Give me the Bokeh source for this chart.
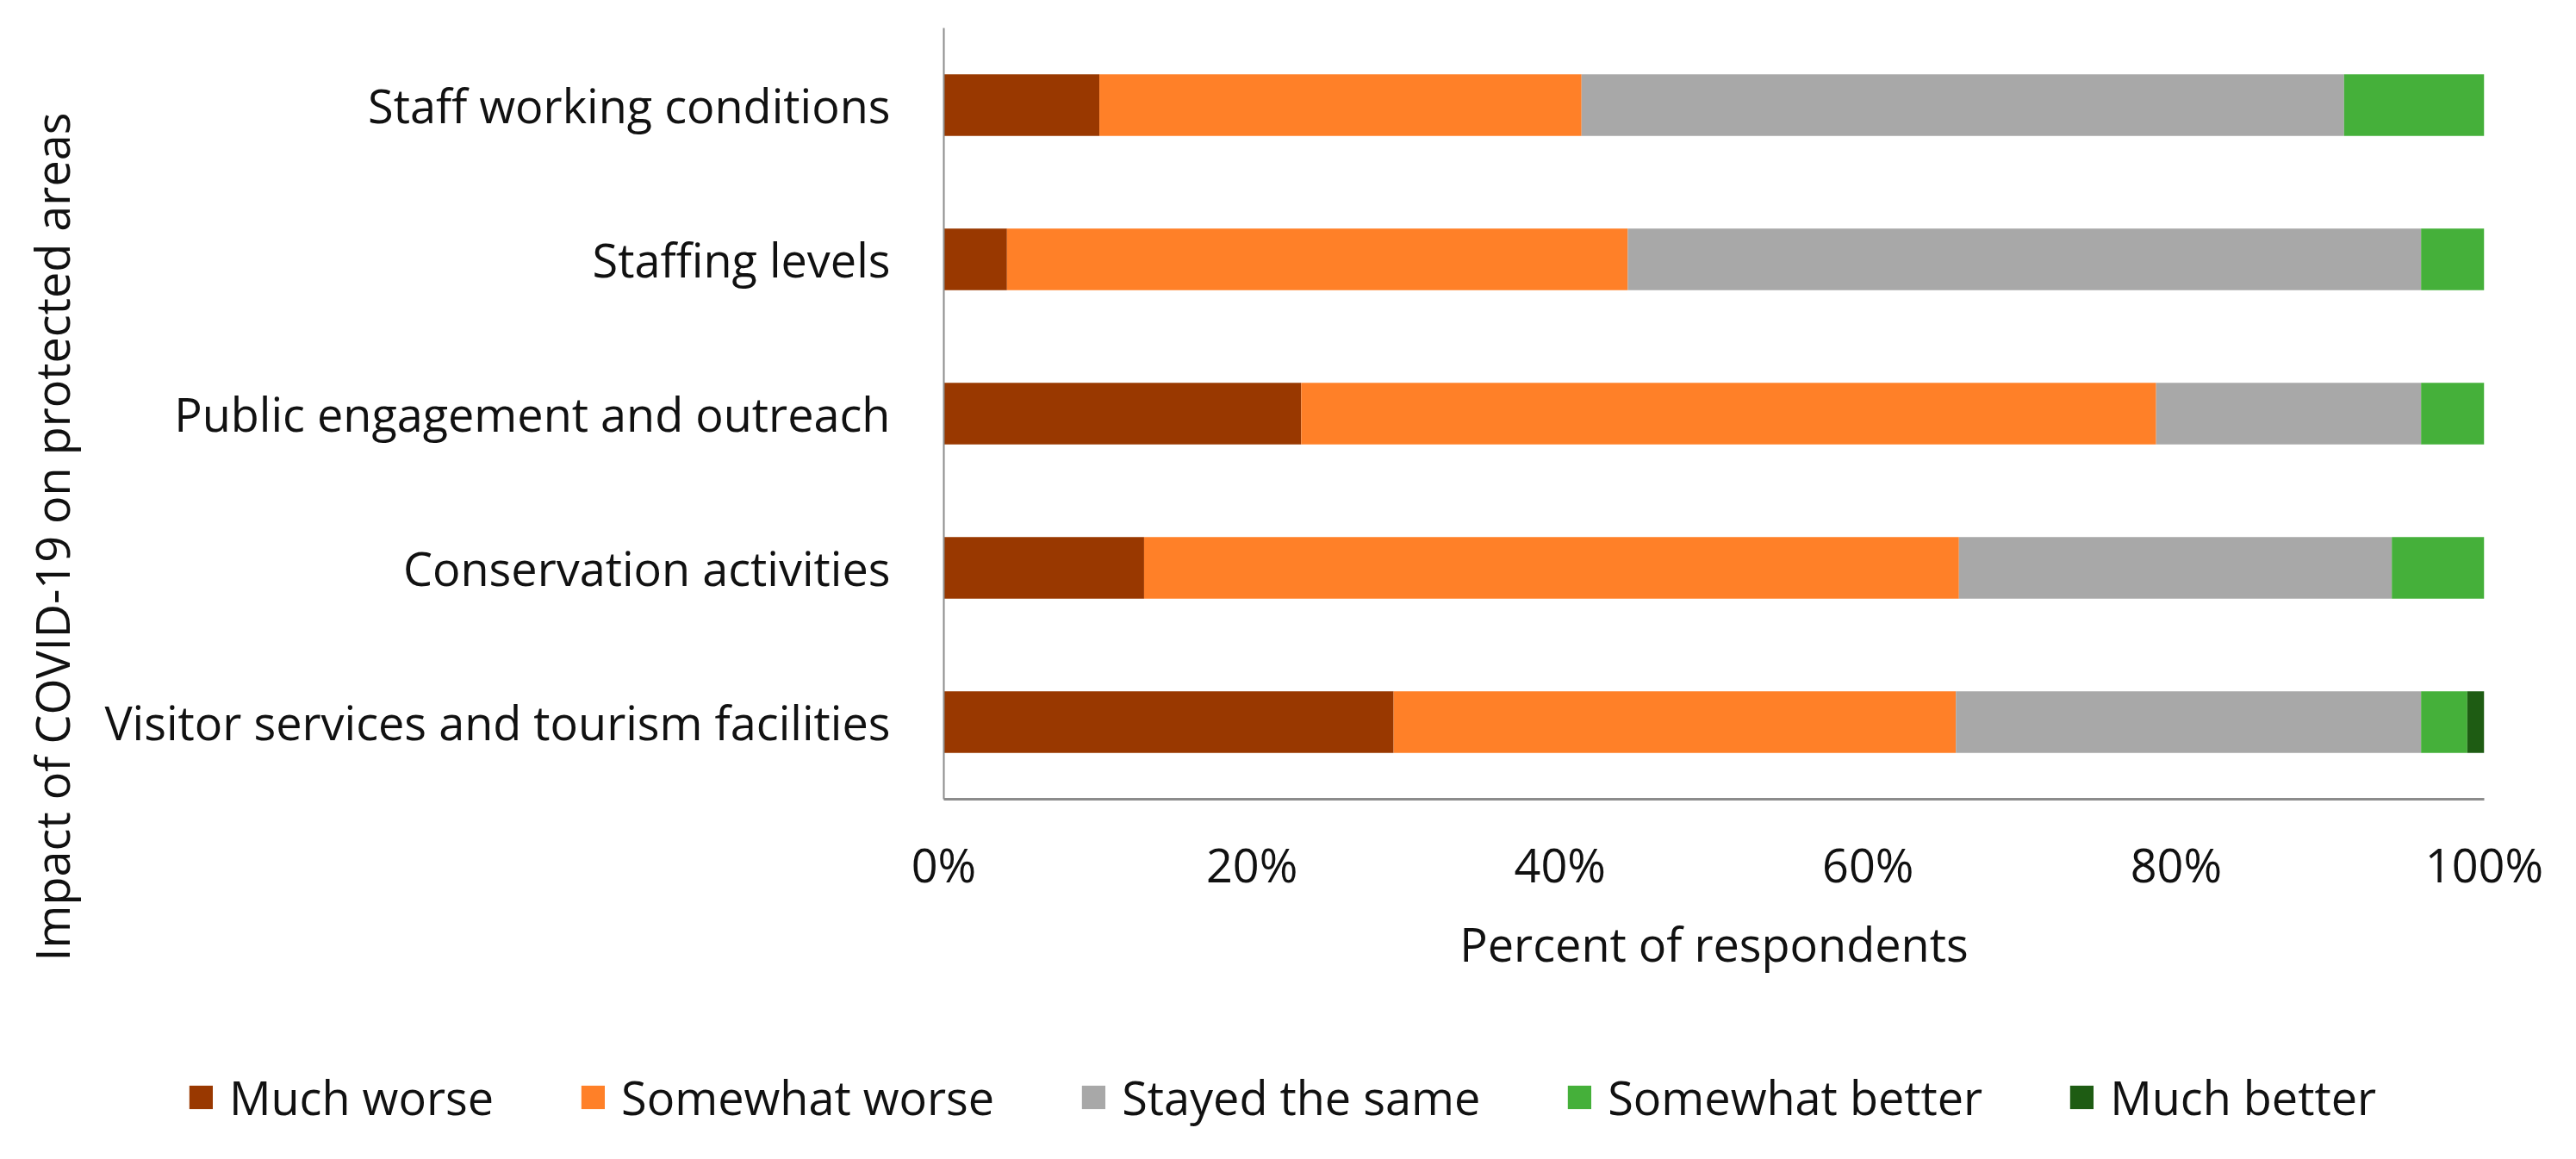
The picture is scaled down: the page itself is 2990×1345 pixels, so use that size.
from bokeh.plotting import figure
from bokeh.layouts import column
from bokeh.models import ColumnDataSource, Legend, LegendItem, NumeralTickFormatter, FixedTicker, Title
from bokeh.embed import file_html
from bokeh.resources import INLINE

categories = ["Visitor services and tourism facilities", "Conservation activities",
              "Public engagement and outreach", "Staffing levels", "Staff working conditions"]
series = ["Much worse", "Somewhat worse", "Stayed the same", "Somewhat better", "Much better"]
much_worse = [29.2, 13.0, 23.2, 4.1, 10.1]
somewhat_worse = [36.5, 52.9, 55.5, 40.3, 31.3]
stayed_same = [30.2, 28.1, 17.2, 51.5, 49.5]
somewhat_better = [3.0, 6.0, 4.1, 4.1, 9.1]
much_better = [1.1, 0.0, 0.0, 0.0, 0.0]
colors = ["#993800", "#FF8028", "#A8A8A8", "#45B03A", "#1E5C13"]
x_ticks = [0, 20, 40, 60, 80, 100]
x_title = "Percent of respondents"
y_title = "Impact of COVID-19 on protected areas"

FONT = "Open Sans"
FS = "54px"
TXT = "#111111"

data = {"cat": categories}
for name, vals in zip(series, [much_worse, somewhat_worse, stayed_same, somewhat_better, much_better]):
    data[name] = [v / 100.0 for v in vals]
source = ColumnDataSource(data)

p = figure(y_range=categories, x_range=(0, 1), width=2974, height=1216,
           output_backend="svg", toolbar_location=None,
           min_border_left=1094, min_border_right=92, min_border_top=32, min_border_bottom=289)
p.frame_width = 1788
p.frame_height = 895

p.hbar_stack(series, y="cat", height=0.4, color=colors, source=source, line_width=0)

p.xgrid.visible = False
p.ygrid.visible = False
p.outline_line_color = None

p.xaxis.ticker = FixedTicker(ticks=[t / 100.0 for t in x_ticks])
p.xaxis.formatter = NumeralTickFormatter(format="0%")
p.xaxis.major_tick_line_color = None
p.xaxis.minor_tick_line_color = None
p.xaxis.axis_line_color = "#8C8C8C"
p.xaxis.axis_line_width = 3
p.xaxis.major_label_standoff = 32
p.xaxis.axis_label = x_title
p.xaxis.axis_label_standoff = 15

p.yaxis.major_tick_line_color = None
p.yaxis.minor_tick_line_color = None
p.yaxis.axis_line_color = "#8C8C8C"
p.yaxis.axis_line_width = 2
p.yaxis.major_label_standoff = 56

for ax in (p.xaxis, p.yaxis):
    ax.major_label_text_font = FONT
    ax.major_label_text_font_size = FS
    ax.major_label_text_color = TXT
    ax.axis_label_text_font = FONT
    ax.axis_label_text_font_size = FS
    ax.axis_label_text_font_style = "normal"
    ax.axis_label_text_color = TXT

ytitle = Title(text=y_title, align="left", offset=-188, vertical_align="middle", standoff=42,
               text_font=FONT, text_font_size="54px", text_font_style="normal", text_color=TXT)
p.add_layout(ytitle, "left")

# legend strip: a second figure whose (zero-height, out-of-range) bars only feed the legend
p2 = figure(y_range=categories, x_range=(2, 3), width=2974, height=113,
            output_backend="svg", toolbar_location=None,
            min_border_left=16, min_border_right=0, min_border_top=0, min_border_bottom=0)
p2.frame_width = 2958
p2.frame_height = 113
p2.axis.visible = False
p2.grid.visible = False
p2.outline_line_color = None
rends = p2.hbar_stack(series, y="cat", height=0.0, color=colors, source=source, line_width=0)
items = [LegendItem(label=s, renderers=[r]) for s, r in zip(series, rends)]
legend = Legend(items=items, orientation="horizontal", location="center",
                label_text_font=FONT, label_text_font_size=FS, label_text_color=TXT,
                glyph_width=34, glyph_height=34, label_standoff=16, spacing=98,
                padding=0, margin=0, border_line_color=None, background_fill_alpha=0)
p2.add_layout(legend, "center")

layout = column(p, p2, spacing=0)
open("out.html", "w").write(file_html(layout, INLINE))
